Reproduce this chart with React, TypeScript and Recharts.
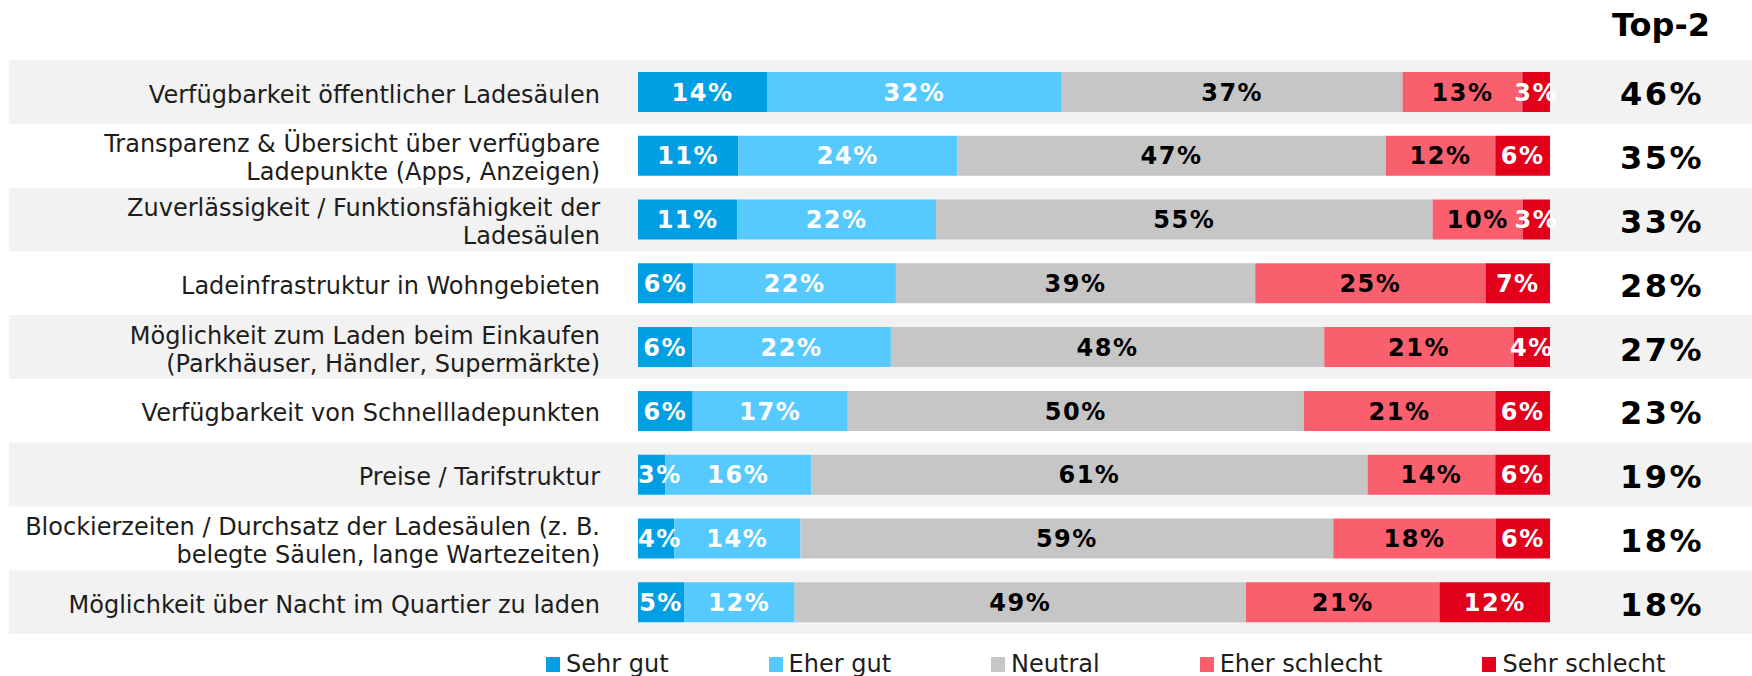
import React from "react";
import { BarChart, Bar, XAxis, YAxis, LabelList, ReferenceArea } from "recharts";

// Kategorien (Zeilenumbrüche wie in der Vorlage)
const categories = [
  "Verfügbarkeit öffentlicher Ladesäulen",
  "Transparenz & Übersicht über verfügbare\nLadepunkte (Apps, Anzeigen)",
  "Zuverlässigkeit / Funktionsfähigkeit der\nLadesäulen",
  "Ladeinfrastruktur in Wohngebieten",
  "Möglichkeit zum Laden beim Einkaufen\n(Parkhäuser, Händler, Supermärkte)",
  "Verfügbarkeit von Schnellladepunkten",
  "Preise / Tarifstruktur",
  "Blockierzeiten / Durchsatz der Ladesäulen (z. B.\nbelegte Säulen, lange Wartezeiten)",
  "Möglichkeit über Nacht im Quartier zu laden",
];

const sehrGut = [14, 11, 11, 6, 6, 6, 3, 4, 5];
const eherGut = [32, 24, 22, 22, 22, 17, 16, 14, 12];
const neutral = [37, 47, 55, 39, 48, 50, 61, 59, 49];
const eherSchlecht = [13, 12, 10, 25, 21, 21, 14, 18, 21];
const sehrSchlecht = [3, 6, 3, 7, 4, 6, 6, 6, 12];
const top2 = [46, 35, 33, 28, 27, 23, 19, 18, 18];

const seriesKeys = ["sg", "eg", "ne", "es", "ss"];
const seriesNames = ["Sehr gut", "Eher gut", "Neutral", "Eher schlecht", "Sehr schlecht"];
const seriesColors = ["#009FE3", "#56CAFF", "#C6C6C6", "#FA5F6E", "#E2001A"];
const labelColors = ["#FFFFFF", "#FFFFFF", "#000000", "#000000", "#FFFFFF"];

const data = categories.map((name, i) => ({
  name,
  sg: sehrGut[i],
  eg: eherGut[i],
  ne: neutral[i],
  es: eherSchlecht[i],
  ss: sehrSchlecht[i],
  top2: top2[i],
}));

const FONT = "'DejaVu Sans', Verdana, sans-serif";
const LABEL_SIZE = 24;
const LABEL_SPACING = 1.5;

// grobe Textbreite für DejaVu Sans Bold
function labelWidth(text: string) {
  let w = 0;
  for (const ch of text) w += ch === "%" ? 1.002 : 0.696;
  return w * LABEL_SIZE + LABEL_SPACING * text.length;
}

function makeLabel(color: string, clampLeft: boolean) {
  return (props: any) => {
    const vb = props.viewBox ?? props;
    const { x, y, width, height } = vb;
    const text = `${props.value}%`;
    const w = labelWidth(text);
    let cx = x + width / 2;
    if (clampLeft && cx - w / 2 < x) cx = x + w / 2;
    return (
      <text
        x={cx}
        y={y + height / 2}
        dy="0.36em"
        textAnchor="middle"
        fill={color}
        fontSize={LABEL_SIZE}
        fontWeight="bold"
        letterSpacing={LABEL_SPACING}
        fontFamily={FONT}
      >
        {text}
      </text>
    );
  };
}

function CategoryTick({ x, y, payload }: any) {
  const lines = String(payload.value).split("\n");
  const lh = 28;
  const y0 = y + 2 - ((lines.length - 1) * lh) / 2;
  return (
    <text x={x} y={y0} textAnchor="end" fontSize={24} fill="#1d1d1b" fontFamily={FONT}>
      {lines.map((l, i) => (
        <tspan key={i} x={x} y={y0 + i * lh} dy="0.36em">
          {l}
        </tspan>
      ))}
    </text>
  );
}

function Top2Tick({ x, y, index }: any) {
  return (
    <text
      x={x + 1}
      y={y + 2}
      dy="0.36em"
      textAnchor="middle"
      fontSize={32}
      fontWeight="bold"
      letterSpacing={2.5}
      fill="#000"
      fontFamily={FONT}
    >
      {`${top2[index]}%`}
    </text>
  );
}

// grauer Zeilenhintergrund über die ganze Breite
function BandShape(props: any) {
  return <rect x={9} y={props.y} width={1743} height={props.height} fill="#F2F2F2" />;
}

export default function App() {
  return (
    <div style={{ position: "absolute", left: 0, top: 0, width: 1752, height: 676, background: "#fff", fontFamily: FONT }}>
      <div
        style={{
          position: "absolute",
          left: 1561,
          width: 200,
          top: 6,
          textAlign: "center",
          fontSize: 32,
          fontWeight: "bold",
          color: "#000",
        }}
      >
        Top-2
      </div>
      <BarChart
        width={1752}
        height={676}
        data={data}
        layout="vertical"
        stackOffset="expand"
        margin={{ top: 60, right: 0, bottom: 42, left: 0 }}
      >
        {categories
          .filter((_, i) => i % 2 === 0)
          .map((c) => (
            <ReferenceArea key={c} yAxisId="left" y1={c} y2={c} ifOverflow="visible" shape={BandShape} />
          ))}
        <XAxis type="number" hide />
        <YAxis
          yAxisId="left"
          type="category"
          dataKey="name"
          width={638}
          axisLine={false}
          tickLine={false}
          tickSize={0}
          tickMargin={38}
          interval={0}
          tick={<CategoryTick />}
        />
        <YAxis
          yAxisId="right"
          orientation="right"
          type="category"
          dataKey="name"
          width={202}
          axisLine={false}
          tickLine={false}
          tickSize={0}
          tickMargin={111}
          interval={0}
          tick={<Top2Tick />}
        />
        {seriesKeys.map((k, i) => (
          <Bar
            key={k}
            yAxisId="left"
            dataKey={k}
            name={seriesNames[i]}
            stackId="a"
            fill={seriesColors[i]}
            barSize={40}
            isAnimationActive={false}
          >
            <LabelList dataKey={k} content={makeLabel(labelColors[i], i === 0)} />
          </Bar>
        ))}
      </BarChart>
      <div
        style={{
          position: "absolute",
          left: 546,
          top: 650,
          display: "flex",
          alignItems: "center",
          gap: 100,
          fontSize: 24,
          lineHeight: "28px",
          color: "#1d1d1b",
          whiteSpace: "nowrap",
        }}
      >
        {seriesNames.map((n, i) => (
          <div key={n} style={{ display: "flex", alignItems: "center" }}>
            <span style={{ display: "inline-block", width: 14, height: 15, background: seriesColors[i], marginRight: 6 }} />
            <span>{n}</span>
          </div>
        ))}
      </div>
    </div>
  );
}
